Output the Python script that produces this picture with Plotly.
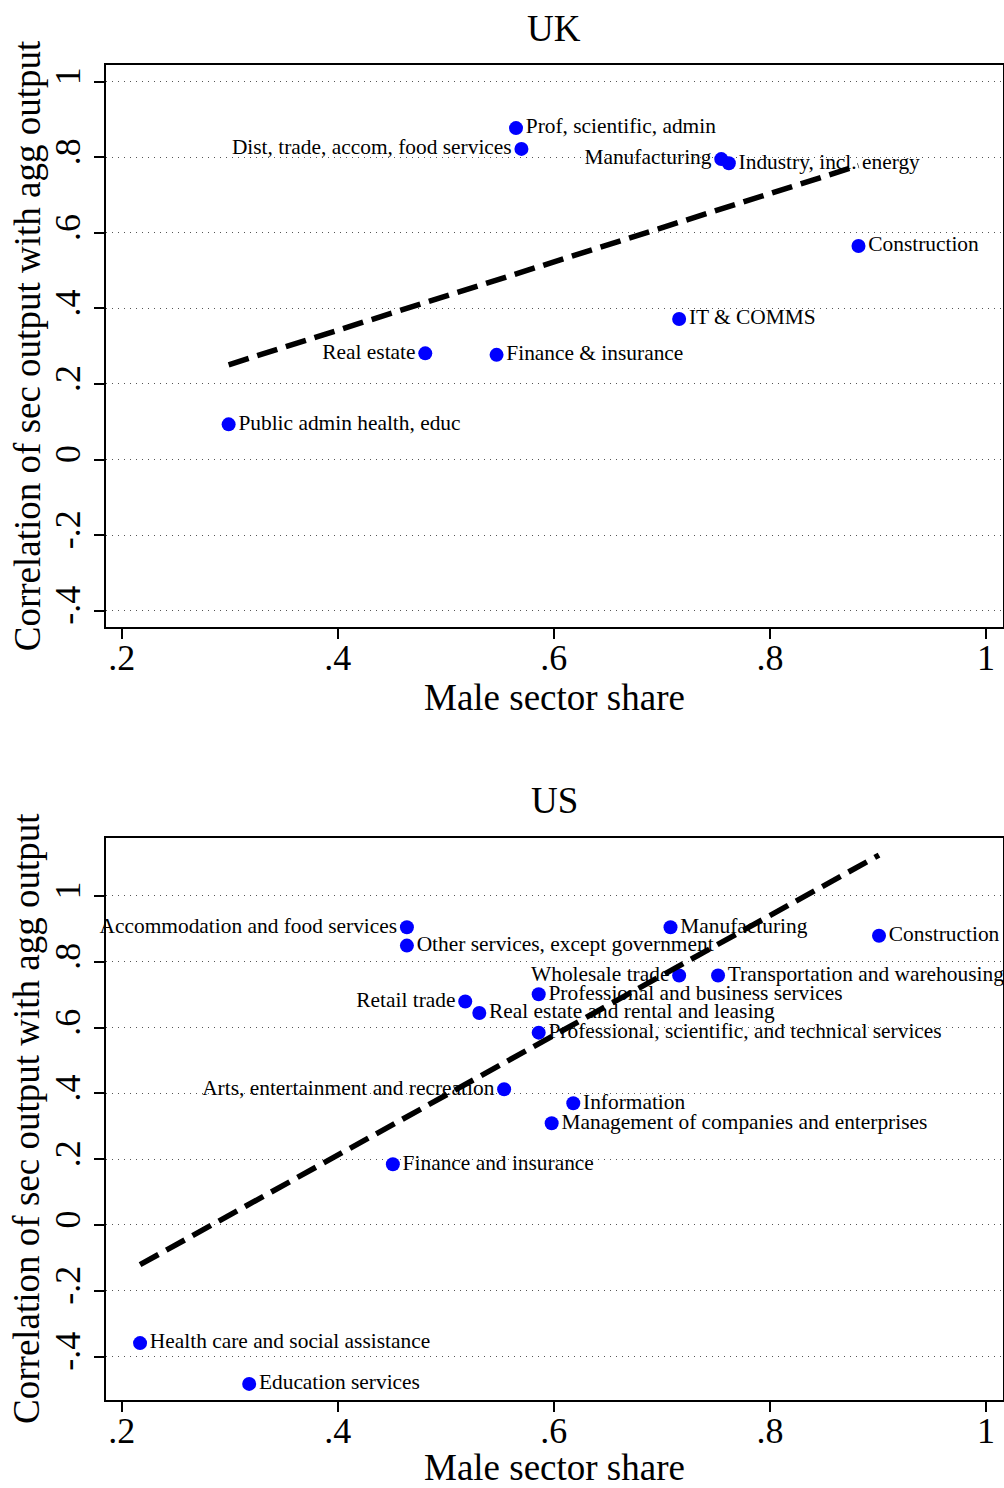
import numpy as np
import plotly.graph_objects as go

# ---------------- data ----------------
uk_sectors = [
    "Prof, scientific, admin",
    "Dist, trade, accom, food services",
    "Manufacturing",
    "Industry, incl. energy",
    "Construction",
    "IT & COMMS",
    "Finance & insurance",
    "Real estate",
    "Public admin health, educ",
]
uk_male_share = [0.565, 0.570, 0.755, 0.762, 0.882, 0.716, 0.547, 0.481, 0.299]
uk_corr = [0.877, 0.822, 0.795, 0.784, 0.565, 0.372, 0.277, 0.281, 0.093]

us_sectors = [
    "Accommodation and food services",
    "Other services, except government",
    "Retail trade",
    "Real estate and rental and leasing",
    "Manufacturing",
    "Construction",
    "Wholesale trade",
    "Transportation and warehousing",
    "Professional and business services",
    "Professional, scientific, and technical services",
    "Arts, entertainment and recreation",
    "Information",
    "Management of companies and enterprises",
    "Finance and insurance",
    "Health care and social assistance",
    "Education services",
]
us_male_share = [0.464, 0.464, 0.518, 0.531, 0.708, 0.901, 0.716, 0.752, 0.586, 0.586,
                 0.554, 0.618, 0.598, 0.451, 0.217, 0.318]
us_corr = [0.905, 0.849, 0.679, 0.644, 0.905, 0.879, 0.758, 0.758, 0.701, 0.5845,
           0.4125, 0.370, 0.309, 0.1845, -0.359, -0.483]

x_tickvals = [0.2, 0.4, 0.6, 0.8, 1.0]
x_ticktext = [".2", ".4", ".6", ".8", "1"]
y_tickvals = [-0.4, -0.2, 0.0, 0.2, 0.4, 0.6, 0.8, 1.0]
y_ticktext = ["-.4", "-.2", "0", ".2", ".4", ".6", ".8", "1"]

panel_titles = ["UK", "US"]
x_title = "Male sector share"
y_title = "Correlation of sec output with agg output"

# sectors whose label sits left of the marker
uk_left = {"Dist, trade, accom, food services", "Manufacturing", "Real estate"}
us_left = {"Accommodation and food services", "Retail trade", "Wholesale trade",
           "Arts, entertainment and recreation"}

# ---------------- style ----------------
FONT = "Liberation Serif, Times New Roman, serif"
W, H = 1004, 1488
BLUE = "#0000ff"


def px_x(p):
    return p / W


def px_y(p):
    return 1 - p / H


fig = go.Figure()


def add_panel(sectors, xs, ys, left_set, xa, ya):
    pos = ["middle left" if s in left_set else "middle right" for s in sectors]
    fig.add_trace(go.Scatter(
        x=xs, y=ys, mode="markers+text", text=sectors, textposition=pos,
        marker=dict(color=BLUE, size=14, line=dict(width=0)),
        textfont=dict(family=FONT, size=21.4, color="black"),
        cliponaxis=False, xaxis=xa, yaxis=ya, hoverinfo="skip",
    ))
    b, a = np.polyfit(np.array(xs), np.array(ys), 1)
    lx = np.array([min(xs), max(xs)])
    fig.add_trace(go.Scatter(
        x=lx, y=a + b * lx, mode="lines",
        line=dict(color="black", width=5.5, dash="21px,9px"),
        xaxis=xa, yaxis=ya, hoverinfo="skip",
    ))


add_panel(uk_sectors, uk_male_share, uk_corr, uk_left, "x", "y")
add_panel(us_sectors, us_male_share, us_corr, us_left, "x2", "y2")

common = dict(showline=True, mirror=True, linecolor="black", linewidth=1.5,
              ticks="outside", ticklen=10, tickwidth=1.5, tickcolor="black",
              tickfont=dict(family=FONT, size=36, color="black"), zeroline=False)

xdom = [px_x(105.7), px_x(1002.5)]
xaxis_style = dict(common, domain=xdom, range=[0.1852, 1.0153], tickvals=x_tickvals,
                   ticktext=x_ticktext, showgrid=False, tickangle=0,
                   ticklabelstandoff=-12)
yaxis_style = dict(common, tickvals=y_tickvals, ticktext=y_ticktext, showgrid=True,
                   gridcolor="#555555", gridwidth=1, griddash="1px,5px", tickangle=-90)

fig.update_layout(
    width=W, height=H, margin=dict(l=0, r=0, t=0, b=0),
    paper_bgcolor="white", plot_bgcolor="white", showlegend=False,
    xaxis=dict(xaxis_style, anchor="y"),
    yaxis=dict(yaxis_style, domain=[px_y(627.3), px_y(65)], range=[-0.444, 1.044], anchor="x"),
    xaxis2=dict(xaxis_style, anchor="y2"),
    yaxis2=dict(yaxis_style, domain=[px_y(1400), px_y(837.7)], range=[-0.532, 1.177], anchor="x2"),
)

ann = []
cx = px_x(554)
for title, ty, xty, ycy in [(panel_titles[0], 28.5, 697.5, 346.2),
                            (panel_titles[1], 800.5, 1467.0, 1118.9)]:
    ann.append(dict(text=title, x=cx, y=px_y(ty), xref="paper", yref="paper",
                    xanchor="center", yanchor="middle", showarrow=False,
                    font=dict(family=FONT, size=37, color="black")))
    ann.append(dict(text=x_title, x=cx, y=px_y(xty), xref="paper", yref="paper",
                    xanchor="center", yanchor="middle", showarrow=False,
                    font=dict(family=FONT, size=37, color="black")))
    ann.append(dict(text=y_title, x=px_x(27), y=px_y(ycy), xref="paper", yref="paper",
                    xanchor="center", yanchor="middle", showarrow=False, textangle=-90,
                    font=dict(family=FONT, size=37, color="black")))
fig.update_layout(annotations=ann)

fig.write_html("out.html")
